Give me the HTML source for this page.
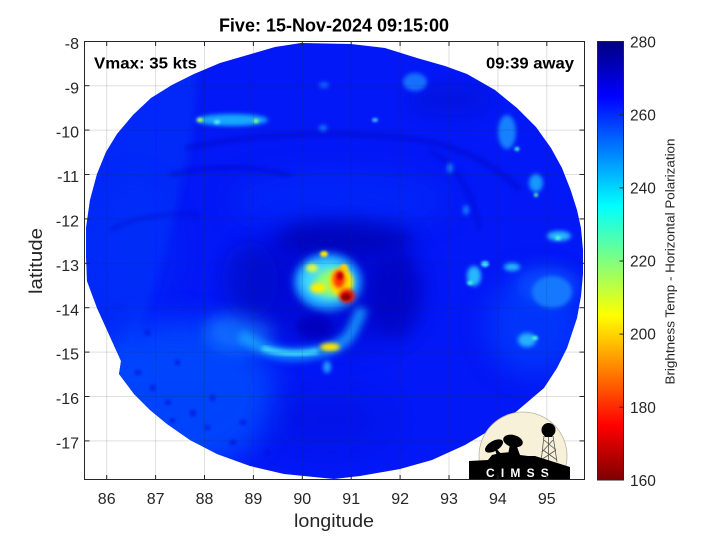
<!DOCTYPE html>
<html><head><meta charset="utf-8"><style>
html,body{margin:0;padding:0;background:#fff;}
svg{display:block;}
</style></head><body>
<svg width="720" height="540" viewBox="0 0 720 540" xmlns="http://www.w3.org/2000/svg" font-family="'Liberation Sans', Arial, sans-serif">
<defs>
<clipPath id="plot"><rect x="84.5" y="41" width="500" height="439"/></clipPath>
<clipPath id="disk"><path d="M301,43 L351,44 L385,48 L417,58 L445,66 L467,74 L495,90 L517,108 L536,127 L551,148 L562,168 L571,191 L577,210 L581,228 L583,250 L583,274 L581,296 L577,318 L567,348 L557,368 L544,388 L517,411 L492,429 L465,445 L432,460 L400,469 L360,476 L334,479 L284,474 L250,466 L217,454 L190,440 L167,424 L150,410 L134,394 L119,374 L121,361 L97,308 L87,281 L86,255 L86,228 L90,200 L97,174 L106,152 L117,134 L133,115 L151,98 L172,85 L194,74 L220,63 L251,54 L275,47 Z"/></clipPath>
<clipPath id="logoclip"><rect x="460" y="400" width="124" height="80"/></clipPath>
<filter id="b1" x="-50%" y="-50%" width="200%" height="200%"><feGaussianBlur stdDeviation="1.2"/></filter>
<filter id="b2" x="-50%" y="-50%" width="200%" height="200%"><feGaussianBlur stdDeviation="2.2"/></filter>
<filter id="b4" x="-50%" y="-50%" width="200%" height="200%"><feGaussianBlur stdDeviation="4"/></filter>
<filter id="b8" x="-50%" y="-50%" width="200%" height="200%"><feGaussianBlur stdDeviation="8"/></filter>
<filter id="b14" x="-50%" y="-50%" width="200%" height="200%"><feGaussianBlur stdDeviation="14"/></filter>
<linearGradient id="cb" x1="0" y1="0" x2="0" y2="1">
<stop offset="0" stop-color="#00007f"/>
<stop offset="0.125" stop-color="#0000ff"/>
<stop offset="0.375" stop-color="#00ffff"/>
<stop offset="0.625" stop-color="#ffff00"/>
<stop offset="0.875" stop-color="#ff0000"/>
<stop offset="1" stop-color="#7f0000"/>
</linearGradient>
</defs>

<!-- satellite image -->
<g clip-path="url(#plot)">
<g clip-path="url(#disk)">
<rect x="80" y="40" width="510" height="445" fill="#0318f6"/>
<!-- lighter upper-left wedge -->
<path d="M197,40 L197,74 L192,140 L178,200 L165,250 L150,300 L130,360 L80,360 L80,40 Z" fill="#0638fa" opacity="0.55" filter="url(#b4)"/>
<!-- left region -->
<ellipse cx="130" cy="250" rx="45" ry="70" fill="#0430f8" opacity="0.4" filter="url(#b14)"/>
<!-- lower-left lighter -->
<ellipse cx="180" cy="395" rx="95" ry="75" fill="#0650ff" opacity="0.8" filter="url(#b14)"/>
<ellipse cx="240" cy="332" rx="35" ry="20" fill="#1880ff" opacity="0.7" filter="url(#b8)"/>
<!-- right streaks -->
<ellipse cx="535" cy="325" rx="48" ry="50" fill="#0648ff" opacity="0.6" filter="url(#b14)"/>
<ellipse cx="548" cy="285" rx="32" ry="18" fill="#1068ff" opacity="0.5" filter="url(#b8)"/>
<!-- middle ring lighter -->
<ellipse cx="340" cy="200" rx="110" ry="28" fill="#0430fa" opacity="0.5" filter="url(#b14)"/>
<!-- dark zones -->
<ellipse cx="330" cy="285" rx="90" ry="62" fill="#0006c0" opacity="0.55" filter="url(#b14)"/>
<ellipse cx="345" cy="238" rx="70" ry="16" fill="#0004a8" opacity="0.6" filter="url(#b8)"/>
<ellipse cx="250" cy="280" rx="28" ry="38" fill="#0008c0" opacity="0.45" filter="url(#b8)"/>
<ellipse cx="395" cy="295" rx="26" ry="45" fill="#0006b8" opacity="0.55" filter="url(#b8)"/>
<ellipse cx="330" cy="420" rx="60" ry="30" fill="#000ed0" opacity="0.3" filter="url(#b14)"/>
<path d="M170,175 Q230,160 290,175" stroke="#0004b0" stroke-width="5" fill="none" opacity="0.35" filter="url(#b2)"/>
<path d="M185,148 Q300,125 420,140 Q480,150 520,190" stroke="#0004b0" stroke-width="5" fill="none" opacity="0.35" filter="url(#b2)"/>
<path d="M430,150 Q470,175 480,230" stroke="#0004b0" stroke-width="4" fill="none" opacity="0.3" filter="url(#b2)"/>
<path d="M110,230 Q150,210 200,215" stroke="#0006b8" stroke-width="4" fill="none" opacity="0.3" filter="url(#b2)"/>
<ellipse cx="450" cy="100" rx="40" ry="15" fill="#000cc0" opacity="0.35" filter="url(#b8)"/>
<!-- dark speckles lower-left -->
<g fill="#0010d0" opacity="0.55" filter="url(#b1)">
<rect x="135" y="370" width="6" height="5"/><rect x="150" y="385" width="5" height="6"/>
<rect x="165" y="400" width="6" height="5"/><rect x="170" y="418" width="5" height="5"/>
<rect x="190" y="410" width="6" height="6"/><rect x="205" y="425" width="5" height="5"/>
<rect x="145" y="330" width="5" height="5"/><rect x="230" y="440" width="6" height="5"/>
<rect x="175" y="360" width="5" height="5"/><rect x="210" y="395" width="5" height="6"/>
<rect x="240" y="420" width="6" height="5"/><rect x="265" y="450" width="5" height="5"/>
</g>
<!-- spiral band -->
<path d="M240,335 Q255,345 268,350 Q290,358 317,352 Q340,348 350,335 Q358,320 362,308" stroke="#18a0ff" stroke-width="12" fill="none" opacity="0.85" filter="url(#b4)"/>
<path d="M262,348 Q290,357 318,351" stroke="#40e0ff" stroke-width="5" fill="none" filter="url(#b2)"/>
<ellipse cx="330" cy="347" rx="10" ry="4" fill="#ffe800" filter="url(#b2)"/>
<ellipse cx="327" cy="367" rx="4" ry="6" fill="#20a0ff" filter="url(#b2)"/>
<!-- center convection -->
<ellipse cx="328" cy="282" rx="34" ry="29" fill="#1890ff" filter="url(#b4)"/>
<ellipse cx="327" cy="281" rx="26" ry="21" fill="#40d8ff" filter="url(#b4)"/>
<ellipse cx="315" cy="327" rx="18" ry="12" fill="#0006c0" filter="url(#b4)"/>
<ellipse cx="333" cy="283" rx="18" ry="14" fill="#90ff70" filter="url(#b4)"/>
<ellipse cx="318" cy="288" rx="8" ry="5" fill="#ffee00" filter="url(#b2)"/>
<ellipse cx="341" cy="282" rx="12" ry="14" fill="#ffe000" filter="url(#b2)"/>
<ellipse cx="312" cy="268" rx="6" ry="4" fill="#e8ff30" filter="url(#b2)"/>
<ellipse cx="324" cy="254" rx="4" ry="3" fill="#ffe800" filter="url(#b1)"/>
<ellipse cx="344" cy="268" rx="4" ry="4" fill="#ffd000" filter="url(#b1)"/>
<ellipse cx="339" cy="279" rx="6" ry="9" fill="#ff3000" filter="url(#b2)"/>
<ellipse cx="347" cy="296" rx="8" ry="7" fill="#f01000" filter="url(#b2)"/>
<ellipse cx="346" cy="297" rx="4.5" ry="3.5" fill="#8a0000" filter="url(#b1)"/>
<ellipse cx="340" cy="276" rx="3" ry="4" fill="#c00000" filter="url(#b1)"/>
<!-- cyan spots -->
<g filter="url(#b2)">
<ellipse cx="232" cy="120" rx="36" ry="6" fill="#18a8ff"/>
<ellipse cx="415" cy="82" rx="12" ry="9" fill="#1470ff"/>
<ellipse cx="507" cy="132" rx="9" ry="17" fill="#1480ff"/>
<ellipse cx="536" cy="183" rx="7" ry="9" fill="#1898ff"/>
<ellipse cx="559" cy="236" rx="12" ry="5" fill="#28b8ff"/>
<ellipse cx="474" cy="276" rx="7" ry="10" fill="#28b8ff"/>
<ellipse cx="512" cy="267" rx="8" ry="4" fill="#28b8ff"/>
<ellipse cx="552" cy="292" rx="20" ry="16" fill="#1478ff"/>
<ellipse cx="527" cy="340" rx="9" ry="7" fill="#28b0ff"/>
<ellipse cx="324" cy="85" rx="5" ry="3" fill="#1468ff"/>
<ellipse cx="323" cy="128" rx="4" ry="3" fill="#1880ff"/>
<ellipse cx="450" cy="168" rx="3" ry="5" fill="#1880ff"/>
<ellipse cx="466" cy="210" rx="3" ry="5" fill="#1880ff"/>
</g>
<g filter="url(#b1)">
<ellipse cx="200" cy="120" rx="3" ry="2" fill="#c0ff40"/>
<ellipse cx="256" cy="121" rx="3" ry="2" fill="#80ff80"/>
<ellipse cx="217" cy="122" rx="3" ry="2" fill="#60f0ff"/>
<ellipse cx="517" cy="149" rx="2.5" ry="2" fill="#40ffd0"/>
<ellipse cx="536" cy="195" rx="2" ry="2" fill="#60ffb0"/>
<ellipse cx="470" cy="283" rx="3" ry="2" fill="#40ffe0"/>
<ellipse cx="485" cy="264" rx="4" ry="3" fill="#40e8ff"/>
<ellipse cx="558" cy="238" rx="3" ry="2" fill="#50ffd0"/>
<ellipse cx="535" cy="338" rx="3" ry="2" fill="#50ffd0"/>
<ellipse cx="375" cy="120" rx="3" ry="2" fill="#40c8ff"/>
</g>
</g>
</g>

<!-- grid -->
<g stroke="#262626" stroke-opacity="0.15" stroke-width="1">
<line x1="106.7" y1="41" x2="106.7" y2="480"/><line x1="155.6" y1="41" x2="155.6" y2="480"/>
<line x1="204.5" y1="41" x2="204.5" y2="480"/><line x1="253.4" y1="41" x2="253.4" y2="480"/>
<line x1="302.3" y1="41" x2="302.3" y2="480"/><line x1="351.2" y1="41" x2="351.2" y2="480"/>
<line x1="400.1" y1="41" x2="400.1" y2="480"/><line x1="449" y1="41" x2="449" y2="480"/>
<line x1="497.9" y1="41" x2="497.9" y2="480"/><line x1="546.8" y1="41" x2="546.8" y2="480"/>
<line x1="84.5" y1="85.7" x2="584.5" y2="85.7"/><line x1="84.5" y1="130.1" x2="584.5" y2="130.1"/>
<line x1="84.5" y1="174.5" x2="584.5" y2="174.5"/><line x1="84.5" y1="218.9" x2="584.5" y2="218.9"/>
<line x1="84.5" y1="263.3" x2="584.5" y2="263.3"/><line x1="84.5" y1="307.7" x2="584.5" y2="307.7"/>
<line x1="84.5" y1="352.1" x2="584.5" y2="352.1"/><line x1="84.5" y1="396.5" x2="584.5" y2="396.5"/>
<line x1="84.5" y1="440.9" x2="584.5" y2="440.9"/>
</g>

<!-- CIMSS logo -->
<g clip-path="url(#logoclip)">
<circle cx="523" cy="456" r="44" fill="#f8f1d9" stroke="#b8b2a0" stroke-width="0.8"/>
<g stroke="#555" stroke-width="0.8" fill="none">
<line x1="544" y1="436" x2="541" y2="462"/><line x1="553" y1="436" x2="557" y2="462"/>
<line x1="544" y1="440" x2="556" y2="450"/><line x1="553" y1="440" x2="542" y2="452"/>
<line x1="543" y1="450" x2="557" y2="460"/><line x1="556" y1="450" x2="541" y2="460"/>
<line x1="548.5" y1="436" x2="548.5" y2="462"/>
</g>
<circle cx="548.5" cy="430" r="7" fill="#000"/>
<path d="M543,433 L554,433 L552,437 L545,437 Z" fill="#000"/>
<path d="M469,480 L469,461 L488,460 L492,455 L500,453 L512,452 L520,455 L528,456 L535,456 L570,467 L570,480 Z" fill="#000"/>
<g transform="rotate(-30 494 446)"><ellipse cx="494" cy="446" rx="10" ry="5" fill="#000"/></g>
<path d="M494,446 L497,456 L503,456 Z" fill="#000"/>
<g transform="rotate(15 513 441)"><ellipse cx="513" cy="441" rx="10" ry="6" fill="#000"/></g>
<path d="M510,444 L508,455 L520,455 L516,444 Z" fill="#000"/>
<text x="486" y="477" font-size="12" font-weight="bold" fill="#fff" letter-spacing="6.2">CIMSS</text>
</g>

<!-- axes box -->
<rect x="84.5" y="41.5" width="500" height="438" fill="none" stroke="#262626" stroke-width="1"/>
<g stroke="#262626" stroke-width="1">
<line x1="106.7" y1="480" x2="106.7" y2="475"/><line x1="155.6" y1="480" x2="155.6" y2="475"/>
<line x1="204.5" y1="480" x2="204.5" y2="475"/><line x1="253.4" y1="480" x2="253.4" y2="475"/>
<line x1="302.3" y1="480" x2="302.3" y2="475"/><line x1="351.2" y1="480" x2="351.2" y2="475"/>
<line x1="400.1" y1="480" x2="400.1" y2="475"/><line x1="449" y1="480" x2="449" y2="475"/>
<line x1="497.9" y1="480" x2="497.9" y2="475"/><line x1="546.8" y1="480" x2="546.8" y2="475"/>
<line x1="106.7" y1="41" x2="106.7" y2="46"/><line x1="155.6" y1="41" x2="155.6" y2="46"/>
<line x1="204.5" y1="41" x2="204.5" y2="46"/><line x1="253.4" y1="41" x2="253.4" y2="46"/>
<line x1="302.3" y1="41" x2="302.3" y2="46"/><line x1="351.2" y1="41" x2="351.2" y2="46"/>
<line x1="400.1" y1="41" x2="400.1" y2="46"/><line x1="449" y1="41" x2="449" y2="46"/>
<line x1="497.9" y1="41" x2="497.9" y2="46"/><line x1="546.8" y1="41" x2="546.8" y2="46"/>
<line x1="84.5" y1="85.7" x2="89.5" y2="85.7"/><line x1="84.5" y1="130.1" x2="89.5" y2="130.1"/>
<line x1="84.5" y1="174.5" x2="89.5" y2="174.5"/><line x1="84.5" y1="218.9" x2="89.5" y2="218.9"/>
<line x1="84.5" y1="263.3" x2="89.5" y2="263.3"/><line x1="84.5" y1="307.7" x2="89.5" y2="307.7"/>
<line x1="84.5" y1="352.1" x2="89.5" y2="352.1"/><line x1="84.5" y1="396.5" x2="89.5" y2="396.5"/>
<line x1="84.5" y1="440.9" x2="89.5" y2="440.9"/>
<line x1="584.5" y1="85.7" x2="579.5" y2="85.7"/><line x1="584.5" y1="130.1" x2="579.5" y2="130.1"/>
<line x1="584.5" y1="174.5" x2="579.5" y2="174.5"/><line x1="584.5" y1="218.9" x2="579.5" y2="218.9"/>
<line x1="584.5" y1="263.3" x2="579.5" y2="263.3"/><line x1="584.5" y1="307.7" x2="579.5" y2="307.7"/>
<line x1="584.5" y1="352.1" x2="579.5" y2="352.1"/><line x1="584.5" y1="396.5" x2="579.5" y2="396.5"/>
<line x1="584.5" y1="440.9" x2="579.5" y2="440.9"/>
</g>

<!-- tick labels -->
<g font-size="16" fill="#262626" text-anchor="middle">
<text x="106.7" y="504">86</text><text x="155.6" y="504">87</text><text x="204.5" y="504">88</text>
<text x="253.4" y="504">89</text><text x="302.3" y="504">90</text><text x="351.2" y="504">91</text>
<text x="400.1" y="504">92</text><text x="449" y="504">93</text><text x="497.9" y="504">94</text>
<text x="546.8" y="504">95</text>
</g>
<g font-size="16" fill="#262626" text-anchor="end">
<text x="79" y="49">-8</text><text x="79" y="93.3">-9</text><text x="79" y="137.7">-10</text>
<text x="79" y="182.1">-11</text><text x="79" y="226.5">-12</text><text x="79" y="270.9">-13</text>
<text x="79" y="315.3">-14</text><text x="79" y="359.7">-15</text><text x="79" y="404.1">-16</text>
<text x="79" y="448.5">-17</text>
</g>

<!-- axis labels -->
<text x="334" y="527" font-size="18" fill="#262626" text-anchor="middle" textLength="80" lengthAdjust="spacingAndGlyphs">longitude</text>
<text transform="translate(42,261) rotate(-90)" font-size="18" fill="#262626" text-anchor="middle" textLength="66" lengthAdjust="spacingAndGlyphs">latitude</text>

<!-- title -->
<text x="334" y="31.5" font-size="18" font-weight="bold" fill="#000" text-anchor="middle">Five: 15-Nov-2024 09:15:00</text>

<!-- annotations -->
<text x="94" y="68.5" font-size="16" font-weight="bold" fill="#000" textLength="103" lengthAdjust="spacingAndGlyphs">Vmax: 35 kts</text>
<text x="574" y="68.5" font-size="16" font-weight="bold" fill="#000" text-anchor="end" textLength="88" lengthAdjust="spacingAndGlyphs">09:39 away</text>

<!-- colorbar -->
<rect x="597.5" y="41.5" width="26" height="438.5" fill="url(#cb)" stroke="#262626" stroke-width="1"/>
<g stroke="#262626" stroke-width="1">
<line x1="623.5" y1="114.8" x2="619.5" y2="114.8"/><line x1="623.5" y1="187.9" x2="619.5" y2="187.9"/>
<line x1="623.5" y1="261" x2="619.5" y2="261"/><line x1="623.5" y1="334.1" x2="619.5" y2="334.1"/>
<line x1="623.5" y1="407.2" x2="619.5" y2="407.2"/>
</g>
<g font-size="15.5" fill="#262626">
<text x="630" y="47.3">280</text><text x="630" y="120.4">260</text><text x="630" y="193.5">240</text>
<text x="630" y="266.6">220</text><text x="630" y="339.7">200</text><text x="630" y="412.8">180</text>
<text x="630" y="485.9">160</text>
</g>
<text transform="translate(674.5,261.5) rotate(-90)" font-size="12.5" fill="#262626" text-anchor="middle" textLength="246" lengthAdjust="spacingAndGlyphs">Brightness Temp - Horizontal Polarization</text>
</svg>
</body></html>
